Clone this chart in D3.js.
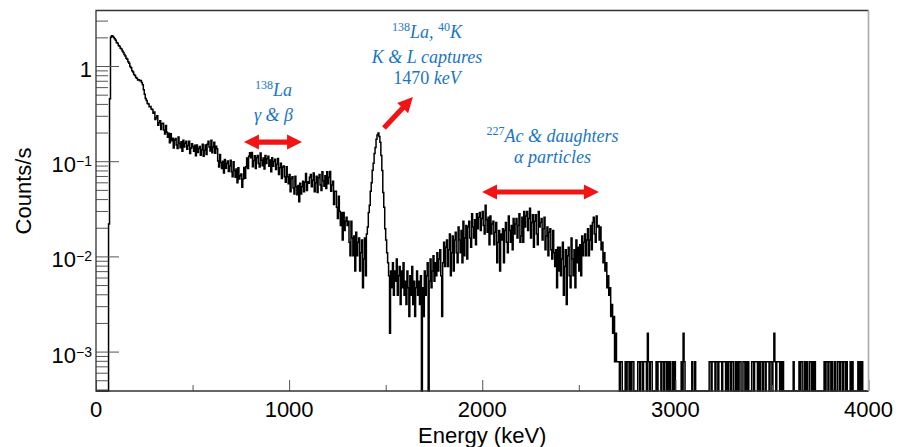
<!DOCTYPE html>
<html>
<head>
<meta charset="utf-8">
<script src="https://cdnjs.cloudflare.com/ajax/libs/d3/7.8.5/d3.min.js"></script>
<style>
body { margin: 0; background: #fff; }
</style>
</head>
<body>
<div id="chart-area"></div>
<script>
// LaBr3 background spectrum, counts per 5 keV bin from 0 to 4000 keV
var binWidth = 5;
var liveTime = 1280; // s -> one count = 7.8e-4 counts/s

var counts = [
	0,0,0,0,0,0,0,0,0,0,0,0,0,28,580,2560,2660,2625,2555,2470,
	2385,2262,2214,2108,2061,1972,1931,1838,1779,1688,1633,1549,1512,1421,1370,1268,1224,1139,1108,1043,
	1018,968,951,914,918,897,902,861,812,722,648,583,556,518,511,479,482,452,446,409,
	421,350,367,384,306,325,341,276,316,320,272,247,303,258,229,252,200,249,210,223,
	176,214,222,189,174,230,197,177,205,163,212,181,198,207,171,187,208,154,175,195,
	182,163,188,146,190,158,174,183,148,169,193,144,167,190,151,193,207,180,164,213,
	157,180,202,155,184,173,129,111,151,123,107,128,96,133,108,121,129,100,114,131,
	99,88,126,102,87,106,76,109,83,90,94,68,83,110,85,112,138,107,144,157,
	139,158,112,130,146,107,139,147,121,111,156,131,115,138,106,147,121,136,144,113,
	132,99,139,113,127,134,105,119,137,93,109,122,84,111,114,88,77,112,88,74,
	93,61,84,88,67,58,89,69,57,71,48,75,58,69,79,61,77,95,63,78,
	75,87,93,69,81,96,61,76,89,60,86,93,72,63,99,80,70,90,66,99,
	74,87,100,62,72,79,45,62,62,42,32,55,38,27,37,19,37,24,30,33,
	27,30,18,13,30,20,13,21,9,23,13,18,20,9,14,19,6,12,20,8,
	22,26,37,44,62,76,103,122,154,178,218,241,254,232,203,147,102,60,42,25,
	19,14,11,8,2,9,6,11,5,9,7,12,5,8,10,4,9,6,11,5,
	7,4,9,6,3,8,5,10,4,7,3,6,9,5,7,4,8,0,6,3,
	9,5,8,11,0,7,12,6,9,13,7,11,8,14,9,12,15,8,3,11,
	18,10,16,19,10,15,22,8,14,21,9,19,23,14,11,26,19,14,24,11,
	30,13,20,27,12,26,30,20,16,36,26,20,31,17,36,25,33,37,24,32,
	38,27,22,44,31,23,33,17,34,22,28,30,17,23,29,11,18,24,9,22,
	19,25,11,24,29,18,14,34,24,18,27,15,32,22,28,32,20,27,36,18,
	21,33,18,38,26,34,38,24,32,41,20,29,35,16,30,35,22,17,38,26,
	29,32,19,25,33,15,21,26,13,23,25,15,12,24,14,10,15,6,16,9,
	16,8,12,18,5,10,15,4,13,16,8,6,20,12,8,15,6,19,11,16,
	9,17,8,21,13,18,22,13,19,25,13,19,27,15,29,33,22,18,34,26,
	27,19,26,15,18,11,14,9,11,6,8,5,6,3,4,2,3,1,2,1,
	1,1,0,1,1,0,0,0,1,0,1,1,0,1,0,1,1,0,0,0,
	0,1,1,0,1,1,0,1,1,1,0,2,1,0,1,1,0,0,0,0,
	1,0,1,1,1,0,1,1,0,1,1,0,1,0,1,0,0,1,0,1,
	0,0,0,0,0,0,1,0,2,1,0,0,0,0,0,0,0,1,0,0,
	1,0,0,0,0,0,0,0,0,0,0,0,0,0,0,1,1,0,1,1,
	1,0,1,1,0,1,1,1,0,1,1,1,0,1,0,1,1,0,1,1,
	0,0,1,0,1,0,1,1,0,0,1,1,0,1,0,1,0,0,0,1,
	1,0,1,1,1,0,1,0,1,1,0,1,1,0,1,1,1,0,1,1,
	0,1,2,1,0,1,1,1,0,1,0,1,0,0,0,0,0,0,0,0,
	0,0,1,0,0,0,0,0,1,0,1,1,0,0,1,0,1,0,0,1,
	1,0,1,0,1,0,0,0,0,0,0,0,0,0,1,0,1,1,0,1,
	1,0,1,0,0,1,0,0,1,1,0,1,1,0,1,1,0,1,0,0,
	0,1,0,1,0,0,0,0,0,1,0,1,0,1,0,0,0,0,0,0
];

var xMajorTicks = [0, 1000, 2000, 3000, 4000];
var xMinorTicks = [500, 1500, 2500, 3500];
var yMajorTicks = [1, 0.1, 0.01, 0.001];
var yTickLabels = [["1", ""], ["10", "\u22121"], ["10", "\u22122"], ["10", "\u22123"]];

// annotation lines, placed in data coordinates (keV, counts/s)
var noteLines = [
	{ e: 919,  v: 0.484,  parts: [["138", "sup"], ["La", "it"]] },
	{ e: 919,  v: 0.264,  parts: [["\u03b3 & \u03b2", "it"]] },
	{ e: 1714, v: 1.97,   parts: [["138", "sup"], ["La, ", "it"], ["40", "sup"], ["K", "it"]] },
	{ e: 1714, v: 1.083,  parts: [["K & L captures", "it"]] },
	{ e: 1714, v: 0.647,  parts: [["1470 ", "up"], ["keV", "it"]] },
	{ e: 2364, v: 0.160,  parts: [["227", "sup"], ["Ac & daughters", "it"]] },
	{ e: 2364, v: 0.0947, parts: [["\u03b1 particles", "it"]] }
];

var arrows = [
	{ e1: 766,  v1: 0.159,  e2: 1067, v2: 0.159,  both: true },
	{ e1: 1491, v1: 0.223,  e2: 1641, v2: 0.472,  both: false },
	{ e1: 1999, v1: 0.0475, e2: 2604, v2: 0.0475, both: true }
];

var margin = { left: 96, right: 32.5, top: 10.5, bottom: 56 };
var width = 901 - margin.left - margin.right,
    height = 447 - margin.top - margin.bottom;

var svg = d3.select("#chart-area")
	.append("svg")
		.attr("width", 901)
		.attr("height", 447)
	.append("g")
		.attr("transform", "translate(" + margin.left + "," + margin.top + ")");

var x = d3.scaleLinear()
	.domain([0, 4000])
	.range([0, width]);

var y = d3.scaleLog()
	.domain([3.855e-4, 3.83])
	.range([height, 0]);

// histogram drawn as steps, empty bins sit on the frame bottom
var points = counts.map(function(c, i) {
	return [i * binWidth, c / liveTime];
});
points.push([counts.length * binWidth, counts[counts.length - 1] / liveTime]);

var line = d3.line()
	.x(function(d) { return x(d[0]); })
	.y(function(d) { return d[1] > 0 ? y(d[1]) : height; })
	.curve(d3.curveStepAfter);

svg.append("path")
	.datum(points)
	.attr("fill", "none")
	.attr("stroke", "#000")
	.attr("stroke-width", 1.5)
	.attr("d", line);

// y ticks (inside the frame)
var yMinor = y.ticks().filter(function(v) {
	return yMajorTicks.indexOf(v) < 0;
});

svg.append("g")
	.attr("class", "y axis minor")
	.call(d3.axisRight(y).tickValues(yMinor).tickSize(12).tickFormat(""))
	.call(function(g) { g.select(".domain").remove(); });

svg.append("g")
	.attr("class", "y axis major")
	.call(d3.axisRight(y).tickValues(yMajorTicks).tickSize(23).tickFormat(""))
	.call(function(g) { g.select(".domain").remove(); });

// x ticks (pointing up from the bottom)
svg.append("g")
	.attr("class", "x axis minor")
	.attr("transform", "translate(0," + height + ")")
	.call(d3.axisTop(x).tickValues(xMinorTicks).tickSize(6).tickFormat(""))
	.call(function(g) { g.select(".domain").remove(); });

svg.append("g")
	.attr("class", "x axis major")
	.attr("transform", "translate(0," + height + ")")
	.call(d3.axisTop(x).tickValues(xMajorTicks).tickSize(11).tickFormat(""))
	.call(function(g) { g.select(".domain").remove(); });

svg.selectAll(".axis line").attr("stroke", "#555");

// frame
svg.append("path")
	.attr("d", "M" + width + ",0H0V" + height + "H" + width)
	.attr("fill", "none")
	.attr("stroke", "#333")
	.attr("stroke-width", 1.3);
svg.append("line")
	.attr("x1", width).attr("x2", width)
	.attr("y1", 0).attr("y2", height)
	.attr("stroke", "#aaa")
	.attr("stroke-width", 1.6);

// tick labels
svg.selectAll(".xlab")
	.data(xMajorTicks).enter()
	.append("text")
		.attr("class", "xlab")
		.attr("x", function(d) { return x(d); })
		.attr("y", height + 26)
		.attr("text-anchor", "middle")
		.attr("font-family", "Liberation Sans, Arial, sans-serif")
		.attr("font-size", "22px")
		.text(function(d) { return d; });

var ylab = svg.selectAll(".ylab")
	.data(yMajorTicks).enter()
	.append("text")
		.attr("class", "ylab")
		.attr("x", -4)
		.attr("y", function(d) { return y(d) + 11; })
		.attr("text-anchor", "end")
		.attr("font-family", "Liberation Sans, Arial, sans-serif")
		.attr("font-size", "22px");

ylab.append("tspan")
	.text(function(d, i) { return yTickLabels[i][0]; });
ylab.append("tspan")
	.attr("font-size", "14px")
	.attr("dy", -6)
	.text(function(d, i) { return yTickLabels[i][1]; });

// axis titles
svg.append("text")
	.attr("x", x(2000))
	.attr("y", height + 51.5)
	.attr("text-anchor", "middle")
	.attr("font-family", "Liberation Sans, Arial, sans-serif")
	.attr("font-size", "22px")
	.text("Energy (keV)");

svg.append("text")
	.attr("transform", "translate(-65," + (191 - margin.top) + ") rotate(-90)")
	.attr("text-anchor", "middle")
	.attr("font-family", "Liberation Sans, Arial, sans-serif")
	.attr("font-size", "22px")
	.text("Counts/s");

// red arrows
function arrowPath(x1, y1, x2, y2, both) {
	var dx = x2 - x1, dy = y2 - y1, L = Math.sqrt(dx * dx + dy * dy);
	var ux = dx / L, uy = dy / L, nx = -uy, ny = ux;
	var hl = 15, hw = 7.5, sw = 2.6;
	var pts = [];
	if (both) {
		pts.push([0, 0], [hl, hw], [hl, sw]);
	} else {
		pts.push([0, sw]);
	}
	pts.push([L - hl, sw], [L - hl, hw], [L, 0], [L - hl, -hw], [L - hl, -sw]);
	if (both) {
		pts.push([hl, -sw], [hl, -hw]);
	} else {
		pts.push([0, -sw]);
	}
	return "M" + pts.map(function(p) {
		return (x1 + p[0] * ux + p[1] * nx).toFixed(2) + "," + (y1 + p[0] * uy + p[1] * ny).toFixed(2);
	}).join("L") + "Z";
}

svg.selectAll(".arrow")
	.data(arrows).enter()
	.append("path")
		.attr("class", "arrow")
		.attr("fill", "#f01414")
		.attr("d", function(d) {
			return arrowPath(x(d.e1), y(d.v1), x(d.e2), y(d.v2), d.both);
		});

// blue annotations
noteLines.forEach(function(n) {
	var t = svg.append("text")
		.attr("x", x(n.e))
		.attr("y", y(n.v))
		.attr("text-anchor", "middle")
		.attr("font-family", "Liberation Serif, serif")
		.attr("font-size", "18px")
		.attr("fill", "#1a75c4");
	var raised = false;
	n.parts.forEach(function(p) {
		var s = t.append("tspan").text(p[0]);
		if (p[1] === "sup") {
			s.attr("font-size", "12px").attr("font-style", "normal");
			if (!raised) { s.attr("dy", -7); raised = true; }
		} else {
			s.attr("font-style", p[1] === "it" ? "italic" : "normal");
			if (raised) { s.attr("dy", 7); raised = false; }
		}
	});
});
</script>
</body>
</html>
